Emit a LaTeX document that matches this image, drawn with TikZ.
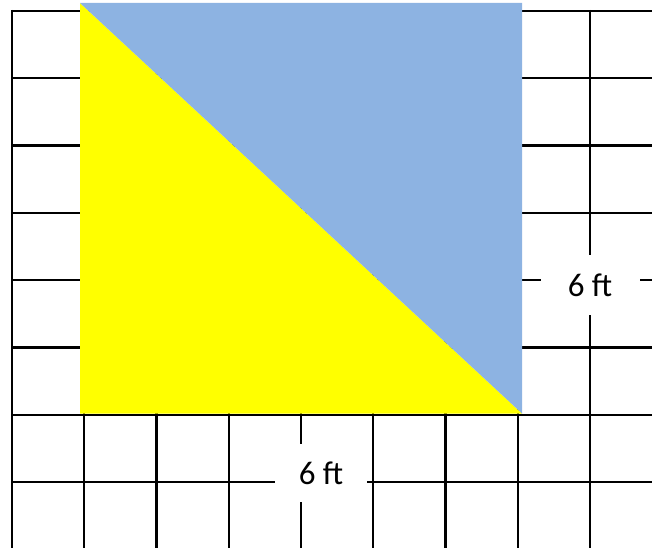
\documentclass[tikz,border=0pt]{standalone}
\usepackage{fontspec}
\setmainfont{Carlito}
\usepackage{xcolor}
\usepackage{tikz}
\definecolor{paleblue}{RGB}{141,179,226}
\definecolor{brightyellow}{RGB}{255,255,0}

\begin{document}
\begin{tikzpicture}[x=1pt,y=-1pt,font=\fontsize{33}{40}\selectfont,
  gridline/.style={line width=2.3pt,black},
  sidelabel/.style={fill=white,inner sep=0pt}]
\useasboundingbox (0,0) rectangle (652,548);
% grid
\foreach \i in {0,...,8}{\draw[gridline] (12+72.25*\i,10)--(12+72.25*\i,548);}
\foreach \j in {0,...,7}{\draw[gridline] (11,11+67.3*\j)--(652,11+67.3*\j);}
% square split along the diagonal
\fill[brightyellow] (80,3)--(80,413.5)--(522,413.5)--cycle;
\fill[paleblue] (80,3)--(522,3)--(522,413.5)--cycle;
% labels
\node[sidelabel,minimum width=92,minimum height=58] (bottomlen) at (321,473){6 ft};
\node[sidelabel,minimum width=99,minimum height=60] (rightlen) at (590,285){6 ft};
\end{tikzpicture}
\end{document}
